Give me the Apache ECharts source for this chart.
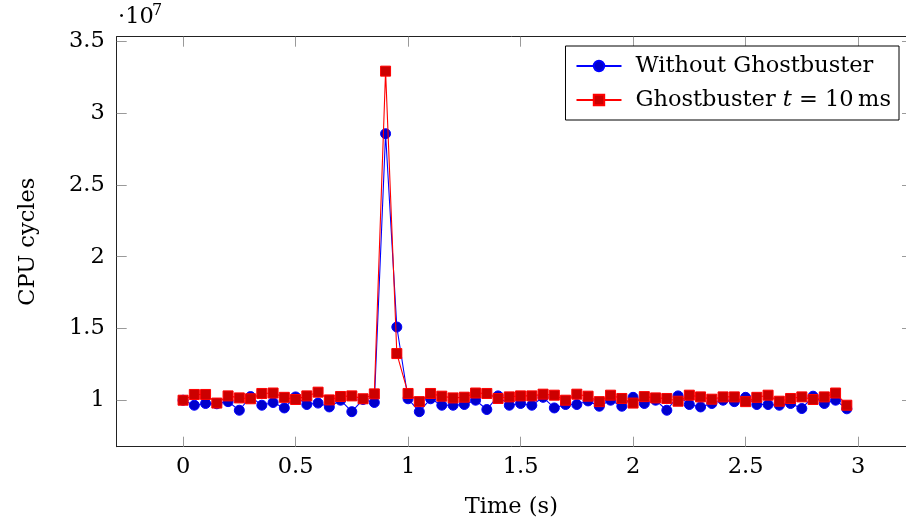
<!DOCTYPE html>
<html>
<head>
<meta charset="utf-8">
<script src="https://cdn.jsdelivr.net/npm/echarts@6/dist/echarts.min.js"></script>
<style>
html,body{margin:0;padding:0;background:#fff;}
#chart{width:906px;height:525px;}
</style>
</head>
<body>
<div id="chart"></div>
<script>
// Time (s)
var times = [0, 0.05, 0.1, 0.15, 0.2, 0.25, 0.3, 0.35, 0.4, 0.45,
  0.5, 0.55, 0.6, 0.65, 0.7, 0.75, 0.8, 0.85, 0.9, 0.95,
  1.0, 1.05, 1.1, 1.15, 1.2, 1.25, 1.3, 1.35, 1.4, 1.45,
  1.5, 1.55, 1.6, 1.65, 1.7, 1.75, 1.8, 1.85, 1.9, 1.95,
  2.0, 2.05, 2.1, 2.15, 2.2, 2.25, 2.3, 2.35, 2.4, 2.45,
  2.5, 2.55, 2.6, 2.65, 2.7, 2.75, 2.8, 2.85, 2.9, 2.95];
// CPU cycles (x 10^7)
var withoutGhostbuster = [1.00, 0.965, 0.977, 0.975, 0.99, 0.93, 1.025, 0.965, 0.984, 0.946,
  1.023, 0.97, 0.98, 0.953, 1.0, 0.92, 1.005, 0.984, 2.857, 1.51,
  1.01, 0.92, 1.01, 0.965, 0.965, 0.97, 1.0, 0.935, 1.03, 0.965,
  0.977, 0.965, 1.02, 0.946, 0.97, 0.97, 0.995, 0.958, 1.0, 0.958,
  1.02, 0.977, 1.0, 0.93, 1.03, 0.97, 0.953, 0.977, 1.0, 0.99,
  1.02, 0.97, 0.97, 0.965, 0.977, 0.942, 1.028, 0.977, 1.0, 0.94];
var ghostbuster10ms = [1.00, 1.04, 1.04, 0.98, 1.03, 1.016, 1.01, 1.047, 1.05, 1.02,
  1.005, 1.03, 1.056, 1.002, 1.026, 1.03, 1.01, 1.044, 3.293, 1.325,
  1.047, 0.99, 1.047, 1.028, 1.016, 1.021, 1.05, 1.047, 1.012, 1.023,
  1.03, 1.03, 1.042, 1.035, 1.0, 1.042, 1.028, 0.99, 1.035, 1.012,
  0.98, 1.025, 1.016, 1.012, 0.993, 1.035, 1.023, 1.007, 1.023, 1.023,
  0.99, 1.02, 1.035, 0.993, 1.012, 1.023, 1.005, 1.023, 1.05, 0.965];
var xTicks = [0, 0.5, 1, 1.5, 2, 2.5, 3];
var yTicks = [1, 1.5, 2, 2.5, 3, 3.5];
var seriesNames = ['Without Ghostbuster', 'Ghostbuster {i|t} = 10\u2009ms'];

var FONT = 'DejaVu Serif';
var FS = 22.5;

function pairs(xs, ys) {
  var out = [];
  for (var k = 0; k < xs.length; k++) out.push([xs[k], ys[k]]);
  return out;
}

var chart = echarts.init(document.getElementById('chart'), null, {renderer: 'canvas'});

var tickStyle = {show: true, inside: true, length: 10, lineStyle: {color: '#9a9a9a', width: 1}};
var lineStyleAxis = {show: true, onZero: false, lineStyle: {color: '#222', width: 1}};
var X_MIN = -0.295, X_MAX = 3.213;
var Y_MIN = 0.676, Y_MAX = 3.533;

var option = {
  animation: false,
  backgroundColor: '#fff',
  textStyle: {fontFamily: FONT},
  grid: {left: 116.7, top: 36.7, right: 0, bottom: 78.3, containLabel: false},
  xAxis: [{
    type: 'value', position: 'bottom', min: X_MIN, max: X_MAX,
    axisLine: lineStyleAxis,
    axisTick: Object.assign({}, tickStyle, {customValues: xTicks}),
    axisLabel: {customValues: xTicks, color: '#000', fontFamily: FONT, fontSize: FS, margin: 9},
    splitLine: {show: false},
    name: 'Time (s)', nameLocation: 'middle', nameGap: 49,
    nameTextStyle: {color: '#000', fontFamily: FONT, fontSize: FS}
  }, {
    type: 'value', position: 'top', min: X_MIN, max: X_MAX,
    axisLine: lineStyleAxis,
    axisTick: Object.assign({}, tickStyle, {customValues: xTicks}),
    axisLabel: {show: false},
    splitLine: {show: false}
  }],
  yAxis: [{
    type: 'value', position: 'left', min: Y_MIN, max: Y_MAX,
    axisLine: lineStyleAxis,
    axisTick: Object.assign({}, tickStyle, {customValues: yTicks}),
    axisLabel: {customValues: yTicks, color: '#000', fontFamily: FONT, fontSize: FS, margin: 12},
    splitLine: {show: false},
    name: 'CPU cycles', nameLocation: 'middle', nameGap: 77, nameRotate: 90,
    nameTextStyle: {color: '#000', fontFamily: FONT, fontSize: FS}
  }, {
    type: 'value', position: 'right', min: Y_MIN, max: Y_MAX,
    axisLine: {show: false, onZero: false},
    axisTick: {show: true, inside: true, length: 4, customValues: yTicks, lineStyle: {color: '#9a9a9a', width: 1}},
    axisLabel: {show: false},
    splitLine: {show: false}
  }],
  legend: {
    orient: 'vertical',
    right: 7, top: 46,
    backgroundColor: '#fff',
    borderColor: '#000', borderWidth: 1, borderRadius: 0,
    padding: [5, 8, 5, 10],
    itemWidth: 45, itemHeight: 13, itemGap: 4,
    textStyle: {
      color: '#000', fontFamily: FONT, fontSize: FS, lineHeight: 30,
      padding: [0, 0, 0, 9],
      rich: {i: {fontStyle: 'italic', fontFamily: FONT, fontSize: FS}}
    },
    data: seriesNames
  },
  series: [{
    name: seriesNames[0], type: 'line',
    xAxisIndex: 0, yAxisIndex: 0,
    data: pairs(times, withoutGhostbuster),
    symbol: 'circle', symbolSize: 10, showAllSymbol: true,
    lineStyle: {color: '#0000ff', width: 1.1},
    itemStyle: {color: '#0000cc', borderColor: '#0000ff', borderWidth: 1},
    emphasis: {disabled: true}, z: 2
  }, {
    name: seriesNames[1], type: 'line',
    xAxisIndex: 0, yAxisIndex: 0,
    data: pairs(times, ghostbuster10ms),
    symbol: 'rect', symbolSize: 10, showAllSymbol: true,
    lineStyle: {color: '#ff0000', width: 1.1},
    itemStyle: {color: '#cc0000', borderColor: '#ff0000', borderWidth: 1},
    emphasis: {disabled: true}, z: 3
  }],
  graphic: [{
    type: 'text', left: 118, top: 6,
    style: {text: '\u00b710', fontFamily: FONT, fontSize: FS, fill: '#000'}
  }, {
    type: 'text', left: 152, top: 3,
    style: {text: '7', fontFamily: FONT, fontSize: 16, fill: '#000'}
  }]
};
chart.setOption(option);
</script>
</body>
</html>
